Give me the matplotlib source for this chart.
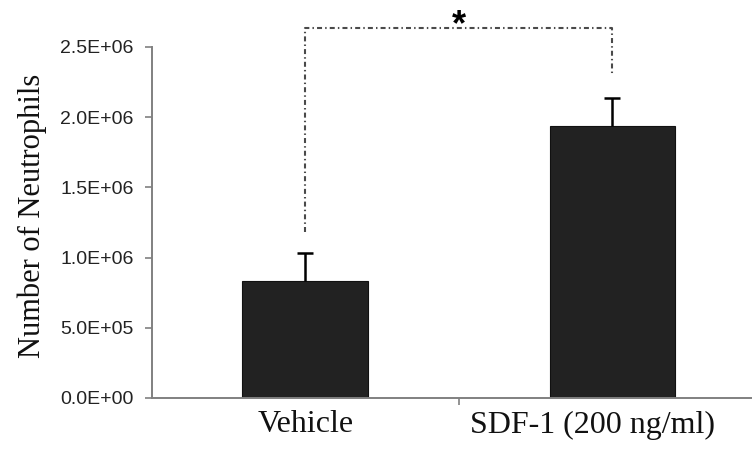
import matplotlib.pyplot as plt
from matplotlib.transforms import ScaledTranslation

# neutrophil counts per group (mean + upper SD)
groups = ["Vehicle", "SDF-1 (200 ng/ml)"]
means = [8.35e5, 1.94e6]
errors = [2.0e5, 1.95e5]
yticks = [0, 5e5, 1e6, 1.5e6, 2e6, 2.5e6]
ytick_labels = ["0.0E+00", "5.0E+05", "1.0E+06", "1.5E+06", "2.0E+06", "2.5E+06"]

# significance bracket: bottom of left leg, bottom of right leg, top
bracket_left = 1.18e6
bracket_right = 2.29e6
bracket_top = 2.635e6

fig = plt.figure(figsize=(7.52, 4.5), dpi=100)
ax = fig.add_axes([0.202, 0.1156, 0.8166, 0.78])

x = list(range(len(groups)))
ax.bar(x, means, width=0.41, color="#222222", edgecolor="#111111", linewidth=0.8, zorder=2)
eb = ax.errorbar(x, means, yerr=[[0, 0], errors], fmt="none", ecolor="black",
                 elinewidth=1.8, capsize=6, capthick=1.8, zorder=3)
eb[1][0].set_visible(False)  # only the upper cap

ax.set_xlim(-0.5, 1.5)
ax.set_ylim(0, 2.5e6)
ax.set_yticks(yticks)
ax.set_yticklabels(ytick_labels, family="Liberation Sans", fontsize=14, color="#222222")
ax.set_xticks(x)
ax.set_xticks([0.5], minor=True)
ax.tick_params(axis="x", which="major", length=0, pad=9)
ax.tick_params(axis="x", which="minor", length=5, width=1.2, color="#808080")
ax.tick_params(axis="y", length=5, width=1.2, color="#808080", pad=8)
ax.set_xticklabels(groups, family="Liberation Serif", fontsize=23, color="#111111")
# the right label sits a little left of its bar, as in the original
lbl = ax.get_xticklabels()[1]
lbl.set_transform(lbl.get_transform() + ScaledTranslation(-0.20, 0, fig.dpi_scale_trans))

ax.set_ylabel("Number of Neutrophils", family="Liberation Serif", fontsize=22,
              color="#111111")
ax.yaxis.set_label_coords(-0.171, 0.518)

for side in ["top", "right"]:
    ax.spines[side].set_visible(False)
for side in ["left", "bottom"]:
    ax.spines[side].set_color("#808080")
    ax.spines[side].set_linewidth(1.4)

# dash-dot significance bracket above the bars
ax.plot([0, 0, 1, 1], [bracket_left, bracket_top, bracket_top, bracket_right],
        color="#4a4a4a", lw=1.5, ls=(0, (2.4, 1.5, 0.7, 1.5)), clip_on=False, zorder=4)
ax.text(0.5, 2.585e6, "*", ha="center", va="baseline", fontsize=26,
        fontweight="bold", family="Liberation Sans", clip_on=False)

fig.savefig("out.png", dpi=100)
